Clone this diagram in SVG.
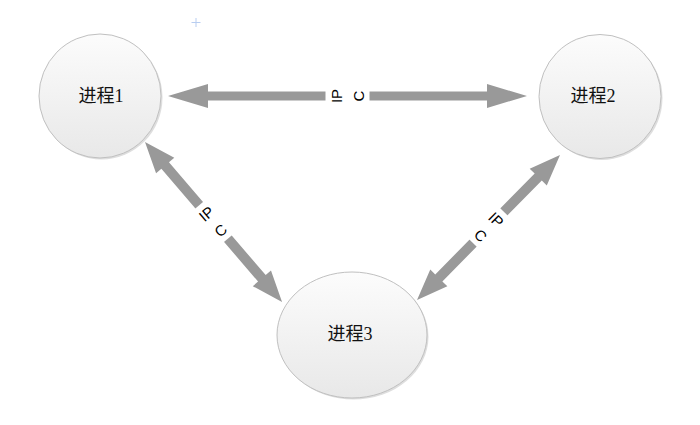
<svg xmlns="http://www.w3.org/2000/svg" width="700" height="425" viewBox="0 0 700 425">
<defs>
<linearGradient id="g" x1="0" y1="0" x2="0" y2="1">
<stop offset="0" stop-color="#fcfcfc"/>
<stop offset="1" stop-color="#e8e8e8"/>
</linearGradient>
<style>
.node{fill:url(#g);stroke:#c0c0c0;stroke-width:1}
.shadow{fill:#dedede}
.lbl{font-family:"Liberation Serif","Noto Sans CJK SC",serif;font-size:18px;fill:#111;text-anchor:middle}
.arrow{fill:#999999}
.ipc{font-family:"Liberation Sans",Arial,sans-serif;font-size:15px;fill:#000;text-anchor:middle}
</style>
</defs>
<rect width="700" height="425" fill="#ffffff"/>
<g stroke="#b8cdf0" stroke-width="1">
<line x1="196" y1="18" x2="196" y2="27"/>
<line x1="191.5" y1="22.5" x2="200.5" y2="22.5"/>
</g>
<g id="node1">
<ellipse class="shadow" cx="101.5" cy="97.5" rx="61" ry="62"/>
<ellipse class="node" cx="100" cy="96" rx="61" ry="62"/>
<text class="lbl" x="101" y="102">进程1</text>
</g>
<g id="node2">
<ellipse class="shadow" cx="601.5" cy="98" rx="61" ry="62"/>
<ellipse class="node" cx="600" cy="96.5" rx="61" ry="62"/>
<text class="lbl" x="593" y="102">进程2</text>
</g>
<g id="node3">
<ellipse class="shadow" cx="353.5" cy="336.5" rx="75" ry="63"/>
<ellipse class="node" cx="352" cy="335" rx="75" ry="63"/>
<text class="lbl" x="350" y="340">进程3</text>
</g>
<g id="connectors">
<g transform="translate(168,96)">
<polygon class="arrow" points="0,0 40,-12 40,-4.5 319,-4.5 319,-12 359,0 319,12 319,4.5 40,4.5 40,12"/>
</g>
<g transform="translate(145,142) rotate(49.4)">
<polygon class="arrow" points="0,0 31,-12 31,-5 179.6,-5 179.6,-12 210.6,0 179.6,12 179.6,5 31,5 31,12"/>
</g>
<g transform="translate(560,155) rotate(134.6)">
<polygon class="arrow" points="0,0 31,-12 31,-5 172.6,-5 172.6,-12 203.6,0 172.6,12 172.6,5 31,5 31,12"/>
</g>
<g transform="translate(347.5,96) rotate(-90)">
<rect x="-7" y="-22" width="14" height="44" fill="#ffffff"/>
<text class="ipc" x="0" y="-5.5">IP</text>
<text class="ipc" x="0" y="16.5">C</text>
</g>
<g transform="translate(213.5,222) rotate(-40.6)">
<rect x="-7" y="-22" width="14" height="44" fill="#ffffff"/>
<text class="ipc" x="0" y="-5.5">IP</text>
<text class="ipc" x="0" y="16.5">C</text>
</g>
<g transform="translate(488.5,227.5) rotate(44.6)">
<rect x="-7" y="-22" width="14" height="44" fill="#ffffff"/>
<text class="ipc" x="0" y="-5.5">IP</text>
<text class="ipc" x="0" y="16.5">C</text>
</g>
</g>
</svg>
